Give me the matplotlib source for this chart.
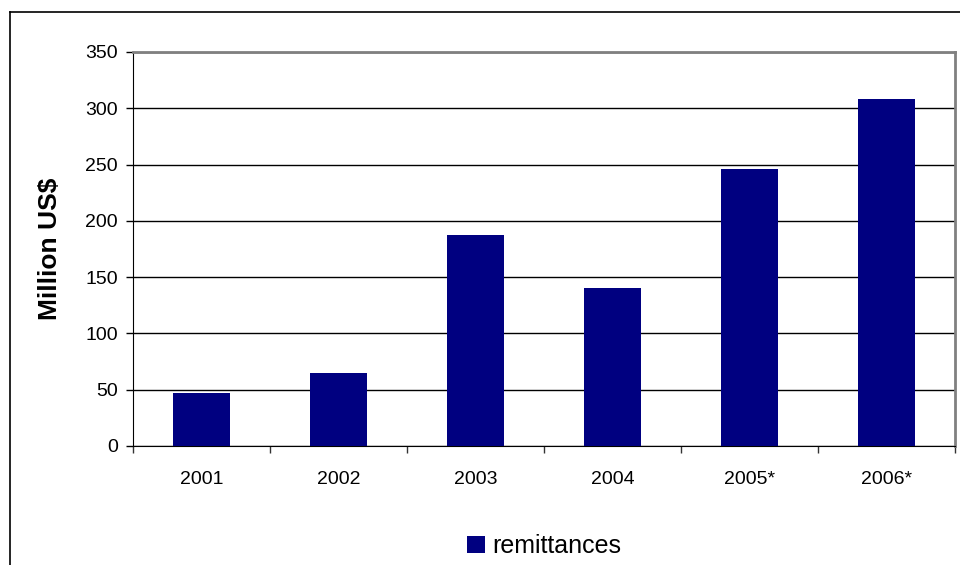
import matplotlib
matplotlib.use('Agg')
import matplotlib.pyplot as plt
from matplotlib.lines import Line2D

plt.rcParams['font.family'] = ['Liberation Sans', 'DejaVu Sans']

years = ['2001', '2002', '2003', '2004', '2005*', '2006*']
remittances = [47, 65, 187, 140, 246, 308]

fig = plt.figure(figsize=(9.6, 5.65), dpi=100)
ax = fig.add_axes([133/960, 1-446/565, 822/960, 394/565])

x = range(len(years))
ax.bar(x, remittances, width=0.416, color='#000080', label='remittances', zorder=3)

ax.set_xlim(-0.5, len(years)-0.5)
ax.set_ylim(0, 350)
ax.set_yticks(range(0, 351, 50))
ax.yaxis.grid(True, color='black', lw=1, zorder=0)

# category boundaries get the tick marks, labels sit in the middle
ax.set_xticks([i-0.5 for i in range(len(years)+1)])
ax.set_xticklabels([])
ax.set_xticks(list(x), minor=True)
ax.set_xticklabels(years, minor=True)
ax.tick_params(axis='x', which='major', length=5, width=1, color='#333333')
ax.tick_params(axis='x', which='minor', length=0, pad=18, labelsize=14)
ax.tick_params(axis='y', length=5, width=1, pad=6, labelsize=14)

for s in ['top', 'right']:
  ax.spines[s].set_color('#808080')
  ax.spines[s].set_linewidth(2)
ax.spines['left'].set_color('black')
ax.spines['bottom'].set_color('black')

ax.set_ylabel('Million US$', fontsize=19, fontweight='bold')
ax.yaxis.set_label_coords(-0.086, 0.5)

ax.legend(loc='center', bbox_to_anchor=(0.5, -0.255), frameon=False, fontsize=18,
          handlelength=0.7, handleheight=0.7, handletextpad=0.3)

# outer chart frame (cut off on the right and bottom)
fig.add_artist(Line2D([10/960, 10/960], [0, 1-12/565], color='black', lw=1.2, transform=fig.transFigure))
fig.add_artist(Line2D([10/960, 1], [1-12/565, 1-12/565], color='black', lw=1.2, transform=fig.transFigure))

fig.savefig('out.png', dpi=100)
